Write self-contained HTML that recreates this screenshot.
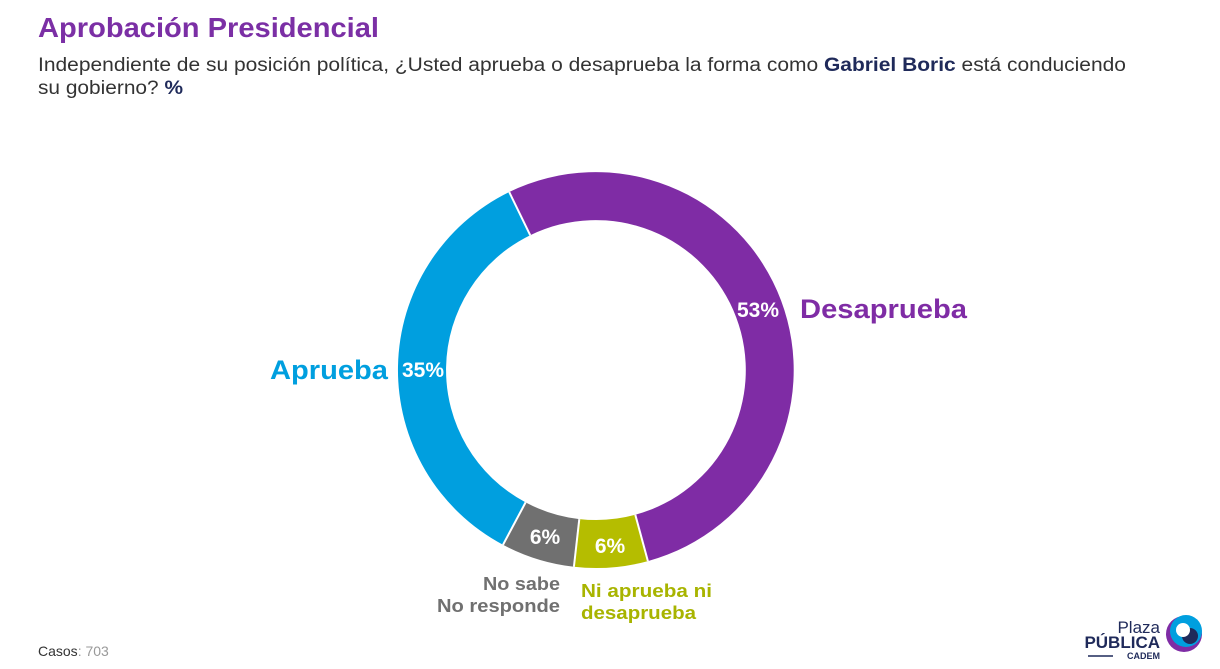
<!DOCTYPE html>
<html><head><meta charset="utf-8"><style>
body{margin:0;width:1220px;height:664px;background:#fff;overflow:hidden;font-family:"Liberation Sans",sans-serif;}
</style></head><body>
<svg width="1220" height="664" viewBox="0 0 1220 664" xmlns="http://www.w3.org/2000/svg" font-family="Liberation Sans, sans-serif">
<text x="38" y="37" font-size="28" font-weight="bold" fill="#7B2FA5" textLength="341" lengthAdjust="spacingAndGlyphs">Aprobación Presidencial</text>
<text x="38" y="71" font-size="19" fill="#333" textLength="1088" lengthAdjust="spacingAndGlyphs">Independiente de su posición política, ¿Usted aprueba o desaprueba la forma como <tspan font-weight="bold" fill="#1F2A5A">Gabriel Boric</tspan> está conduciendo</text>
<text x="38" y="94" font-size="19" fill="#333" textLength="145" lengthAdjust="spacingAndGlyphs">su gobierno? <tspan font-weight="bold" fill="#1F2A5A">%</tspan></text>

<path d="M509.2,192 A198,198 0 1 1 647.9,561.1 L635.3,514.8 A150,150 0 1 0 530.2,235.2 Z" fill="#7F2CA5"/>
<path d="M647.9,561.1 A198,198 0 0 1 573.9,566.8 L579.3,519.1 A150,150 0 0 0 635.3,514.8 Z" fill="#B5BD00"/>
<path d="M573.9,566.8 A198,198 0 0 1 503,544.8 L525.6,502.4 A150,150 0 0 0 579.3,519.1 Z" fill="#707070"/>
<path d="M503,544.8 A198,198 0 0 1 509.2,192 L530.2,235.2 A150,150 0 0 0 525.6,502.4 Z" fill="#009FDF"/>
<g stroke="#fff" stroke-width="2"><line x1="509.2" y1="192" x2="530.2" y2="235.2"/><line x1="647.9" y1="561.1" x2="635.3" y2="514.8"/><line x1="573.9" y1="566.8" x2="579.3" y2="519.1"/><line x1="503" y1="544.8" x2="525.6" y2="502.4"/></g>

<g font-weight="bold" font-size="21" fill="#fff" text-anchor="middle">
<text x="758" y="317">53%</text>
<text x="423" y="377">35%</text>
<text x="545" y="544">6%</text>
<text x="610" y="553">6%</text>
</g>
<text x="800" y="318" font-size="27" font-weight="bold" fill="#7F2CA5" textLength="167" lengthAdjust="spacingAndGlyphs">Desaprueba</text>
<text x="270" y="379" font-size="27" font-weight="bold" fill="#009FDF" textLength="118" lengthAdjust="spacingAndGlyphs">Aprueba</text>
<g font-size="18" font-weight="bold" fill="#707070">
<text x="483" y="590" textLength="77" lengthAdjust="spacingAndGlyphs">No sabe</text>
<text x="437" y="612" textLength="123" lengthAdjust="spacingAndGlyphs">No responde</text>
</g>
<g font-size="18" font-weight="bold" fill="#A8B400">
<text x="581" y="597" textLength="131" lengthAdjust="spacingAndGlyphs">Ni aprueba ni</text>
<text x="581" y="619" textLength="115" lengthAdjust="spacingAndGlyphs">desaprueba</text>
</g>
<text x="38" y="656" font-size="14" fill="#333">Casos<tspan fill="#999">: 703</tspan></text>

<text x="1160" y="633" font-size="17" fill="#1F2A5A" text-anchor="end">Plaza</text>
<text x="1160" y="648" font-size="17" font-weight="bold" fill="#1F2A5A" text-anchor="end">PÚBLICA</text>
<line x1="1088" y1="656" x2="1113" y2="656" stroke="#1F2A5A" stroke-width="1.5"/>
<text x="1160" y="659" font-size="9" font-weight="bold" fill="#1F2A5A" text-anchor="end">CADEM</text>
<circle cx="1184" cy="634" r="18" fill="#7F2CA5"/>
<circle cx="1186" cy="631" r="16" fill="#009FDF"/>
<circle cx="1190" cy="636" r="8" fill="#1F2A5A"/>
<circle cx="1183" cy="630" r="7" fill="#fff"/>
</svg>
</body></html>
